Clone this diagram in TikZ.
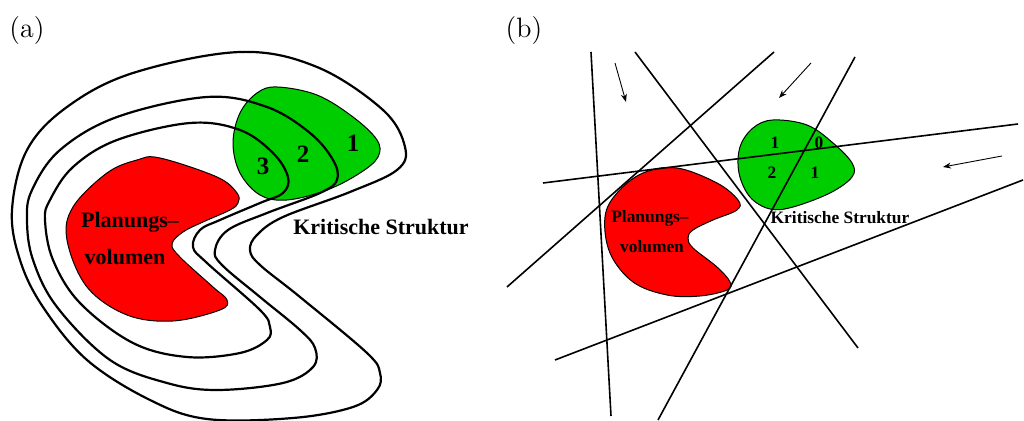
\documentclass[tikz,border=0pt]{standalone}
\usepackage{fontspec}
\setmainfont{Liberation Serif}
\newfontfamily\lmfont{Latin Modern Roman}
\usetikzlibrary{arrows.meta}
\definecolor{pvred}{RGB}{255,0,0}
\definecolor{ksgreen}{RGB}{0,205,0}
\tikzset{
  pv/.style={fill=pvred,draw=black,line width=0.5pt},
  ks/.style={fill=ksgreen,draw=black,line width=0.5pt},
  contour/.style={draw=black,line width=1.1pt},
  beam/.style={draw=black,line width=0.8pt},
  dirarrow/.style={draw=black,line width=0.45pt,-{Stealth[length=4pt,width=3pt]}},
  biglabel/.style={font=\bfseries\fontsize{11}{13}\selectfont,inner sep=0pt},
  bignum/.style={font=\bfseries\fontsize{12.5}{14}\selectfont,inner sep=0pt},
  smalllabel/.style={font=\bfseries\fontsize{8.7}{10}\selectfont,inner sep=0pt},
  panel/.style={font=\lmfont\fontsize{14}{17}\selectfont,inner sep=0pt}
}
\begin{document}
\begin{tikzpicture}[x=0.5pt,y=-0.5pt]
\useasboundingbox (0,0) rectangle (1024,421);
% ---------- panel (a) ----------
\node[panel] (pa) at (27,31) {(a)};
\draw[pv] plot[smooth cycle,tension=0.6] coordinates {
 (160,158) (217,177) (237,193) (238,203) (230,210) (203,222) (183,232) (172,244)
 (180,257) (213,287) (227,300) (220,310) (173,321) (127,315) (87,287)
 (67,240) (73,207) (107,173) (137,160)};
\draw[ks] plot[smooth cycle,tension=0.6] coordinates {
 (277,87) (317,95) (353,117) (377,140) (378,157) (360,173) (327,190) (287,200)
 (260,195) (240,173) (233,143) (240,113) (257,93)};
% outer contour 1
\draw[contour] plot[smooth cycle,tension=0.6] coordinates {
 (240,52) (317,67) (383,110) (405,147) (397,170) (350,192) (283,217) (257,235)
 (250,250) (260,265) (300,297) (367,353) (380,373) (377,390) (353,407) (293,418)
 (207,419) (150,400) (87,360) (43,307) (20,260) (12,210) (27,150) (67,107) (133,73)};
% contour 2
\draw[contour] plot[smooth cycle,tension=0.6] coordinates {
 (207,97) (267,107) (310,133) (333,160) (337,180) (320,193) (267,213) (228,230)
 (215,250) (222,265) (260,297) (300,330) (315,348) (313,367) (283,383) (217,390)
 (167,383) (110,360) (57,307) (33,260) (27,220) (32,190) (60,150) (117,117)};
% contour 3
\draw[contour] plot[smooth cycle,tension=0.6] coordinates {
 (190,123) (240,130) (273,153) (288,177) (283,193) (260,203) (220,220) (200,230)
 (193,247) (207,263) (260,310) (270,327) (267,340) (240,353) (187,357) (133,343)
 (80,303) (53,260) (45,220) (50,200) (73,167) (117,140)};
\node[bignum] (na1) at (353,143) {1};
\node[bignum] (na2) at (303,154) {2};
\node[bignum] (na3) at (263,166) {3};
\node[biglabel] (pva1) at (130,222) {Planungs--};
\node[biglabel] (pva2) at (125,257) {volumen};
\node[biglabel] (ksa) at (381,227) {Kritische Struktur};
% ---------- panel (b) ----------
\node[panel] (pb) at (524,31) {(b)};
\draw[pv] plot[smooth cycle,tension=0.6] coordinates {
 (677,168) (717,183) (738,200) (737,210) (713,220) (693,230) (688,238) (693,248)
 (717,267) (730,282) (727,290) (700,296) (667,295) (633,282) (610,253) (605,217)
 (617,193) (643,173)};
\draw[ks] plot[smooth cycle,tension=0.6] coordinates {
 (773,120) (807,125) (833,143) (852,163) (852,177) (830,193) (793,207) (770,209)
 (750,197) (739,173) (740,147) (753,128)};
\node[smalllabel] (nb1) at (775,143) {1};
\node[smalllabel] (nb0) at (819,143) {0};
\node[smalllabel] (nb2) at (772,173) {2};
\node[smalllabel] (nb3) at (815,173) {1};
\node[smalllabel] (pvb1) at (650,218) {Planungs--};
\node[smalllabel] (pvb2) at (652,247) {volumen};
\node[smalllabel] (ksb) at (840,218) {Kritische Struktur};
\coordinate (l1a) at (591,52);  \coordinate (l1b) at (611,416);
\coordinate (l2a) at (635,52);  \coordinate (l2b) at (858,348);
\coordinate (l3a) at (774,52);  \coordinate (l3b) at (507,287);
\coordinate (l4a) at (855,57);  \coordinate (l4b) at (658,420);
\coordinate (l5a) at (543,183); \coordinate (l5b) at (1018,124);
\coordinate (l6a) at (555,360); \coordinate (l6b) at (1023,180);
\draw[beam] (l1a) -- (l1b);
\draw[beam] (l2a) -- (l2b);
\draw[beam] (l3a) -- (l3b);
\draw[beam] (l4a) -- (l4b);
\draw[beam] (l5a) -- (l5b);
\draw[beam] (l6a) -- (l6b);
\coordinate (a1a) at (615,63);  \coordinate (a1b) at (626,102);
\coordinate (a2a) at (811,63);  \coordinate (a2b) at (779,98);
\coordinate (a3a) at (1002,156); \coordinate (a3b) at (943,167);
\draw[dirarrow] (a1a) -- (a1b);
\draw[dirarrow] (a2a) -- (a2b);
\draw[dirarrow] (a3a) -- (a3b);
\end{tikzpicture}
\end{document}
